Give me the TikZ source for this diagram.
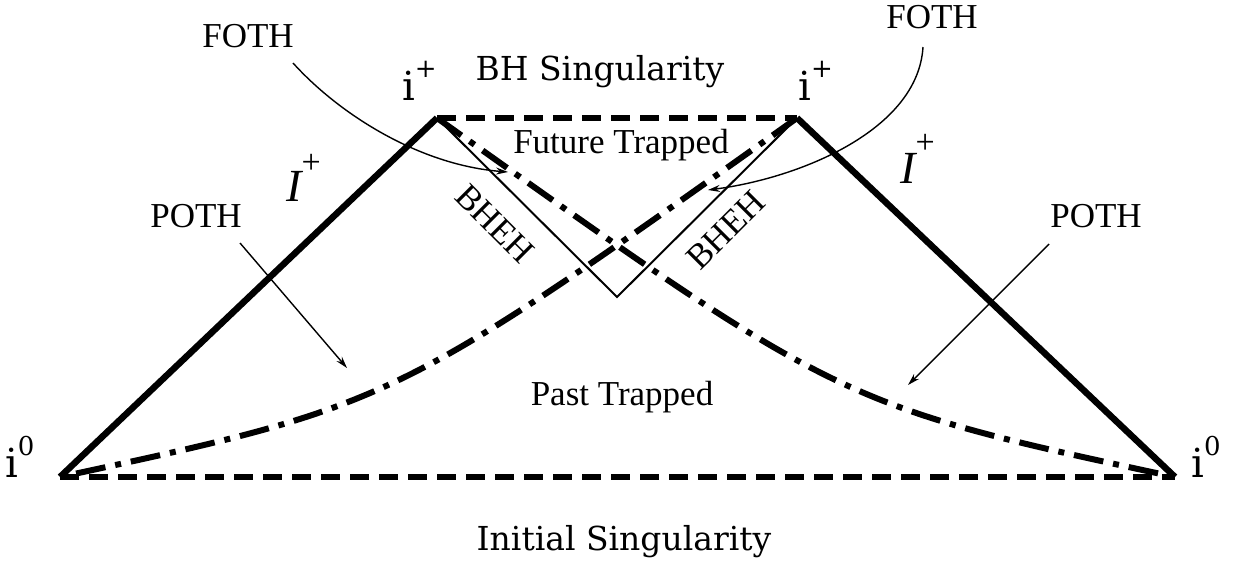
\documentclass[tikz,border=0pt]{standalone}
\usepackage{fontspec}
\setmainfont{Liberation Serif}
\newfontfamily\schfont{DejaVu Serif}
\usetikzlibrary{arrows.meta}
\begin{document}
\begin{tikzpicture}[x=1pt,y=-1pt,
  edge/.style={line width=6.5pt},
  sing/.style={line width=6pt, dash pattern=on 19pt off 10pt},
  horiz/.style={line width=6pt, dash pattern=on 30pt off 10pt on 6pt off 10pt},
  bheh/.style={line width=2pt},
  ptr/.style={line width=1.4pt, -{Stealth[length=12pt,width=7pt]}},
  tlab/.style={font=\fontsize{35}{40}\selectfont, inner sep=0pt},
  slab/.style={font=\schfont\fontsize{33}{38}\selectfont, inner sep=0pt},
  ilab/.style={font=\schfont\fontsize{40}{44}\selectfont, inner sep=0pt, anchor=base west},
  scri/.style={font=\itshape\fontsize{46}{50}\selectfont, inner sep=0pt, anchor=base west},
]
\useasboundingbox (0,0) rectangle (1247,565);
% corners
\coordinate (iL) at (60,477);
\coordinate (iR) at (1175,477);
\coordinate (pL) at (437,118);
\coordinate (pR) at (797,118);
\coordinate (v) at (617,297);
% boundaries
\draw[sing] (pL) -- (pR);
\draw[sing] (iL) -- (iR);
\draw[edge] (iL) -- (pL);
\draw[edge] (pR) -- (iR);
\draw[bheh] (pL) -- (v) -- (pR);
\draw[horiz] (pL) .. controls (840,405) .. (iR);
\draw[horiz] (pR) .. controls (394,405) .. (iL);
% labels
\node[slab, anchor=base] (bhs) at (600,80) {BH Singularity};
\node[slab, anchor=base] (ins) at (624,550) {Initial Singularity};
\node[ilab] (ipl) at (402,100) {i\raisebox{23pt}{\fontsize{26}{28}\selectfont +}};
\node[ilab] (ipr) at (798,100) {i\raisebox{23pt}{\fontsize{26}{28}\selectfont +}};
\node[ilab] (i0l) at (5,477) {i\raisebox{22pt}{\fontsize{26}{28}\selectfont 0}};
\node[ilab] (i0r) at (1191,477) {i\raisebox{22pt}{\fontsize{26}{28}\selectfont 0}};
\node[scri] (scl) at (286,201) {I\raisebox{28pt}{\upshape\fontsize{34}{36}\selectfont +}};
\node[scri] (scr) at (900,183) {I\raisebox{30pt}{\upshape\fontsize{34}{36}\selectfont +}};
\node[tlab, anchor=base] (ft) at (621,153) {Future Trapped};
\node[tlab, anchor=base] (pt) at (622,405) {Past Trapped};
\node[tlab, anchor=base] (fothl) at (248,47) {FOTH};
\node[tlab, anchor=base] (fothr) at (932,28) {FOTH};
\node[tlab, anchor=base] (pothl) at (196,227) {POTH};
\node[tlab, anchor=base] (pothr) at (1096,227) {POTH};
\node[tlab, rotate=-45] (bhehl) at (495,224) {BHEH};
\node[tlab, rotate=45] (bhehr) at (726,230) {BHEH};
% pointers
\coordinate (fls) at (293,63);
\coordinate (fle) at (508,172);
\coordinate (frs) at (923,47);
\coordinate (fre) at (708,190);
\coordinate (pls) at (240,243);
\coordinate (ple) at (347,368);
\coordinate (prs) at (1049,244);
\coordinate (pre) at (908,385);
\draw[ptr] (fls) .. controls (340,115) and (420,165) .. (fle);
\draw[ptr] (frs) .. controls (918,130) and (800,178) .. (fre);
\draw[ptr] (pls) -- (ple);
\draw[ptr] (prs) -- (pre);
\end{tikzpicture}
\end{document}
